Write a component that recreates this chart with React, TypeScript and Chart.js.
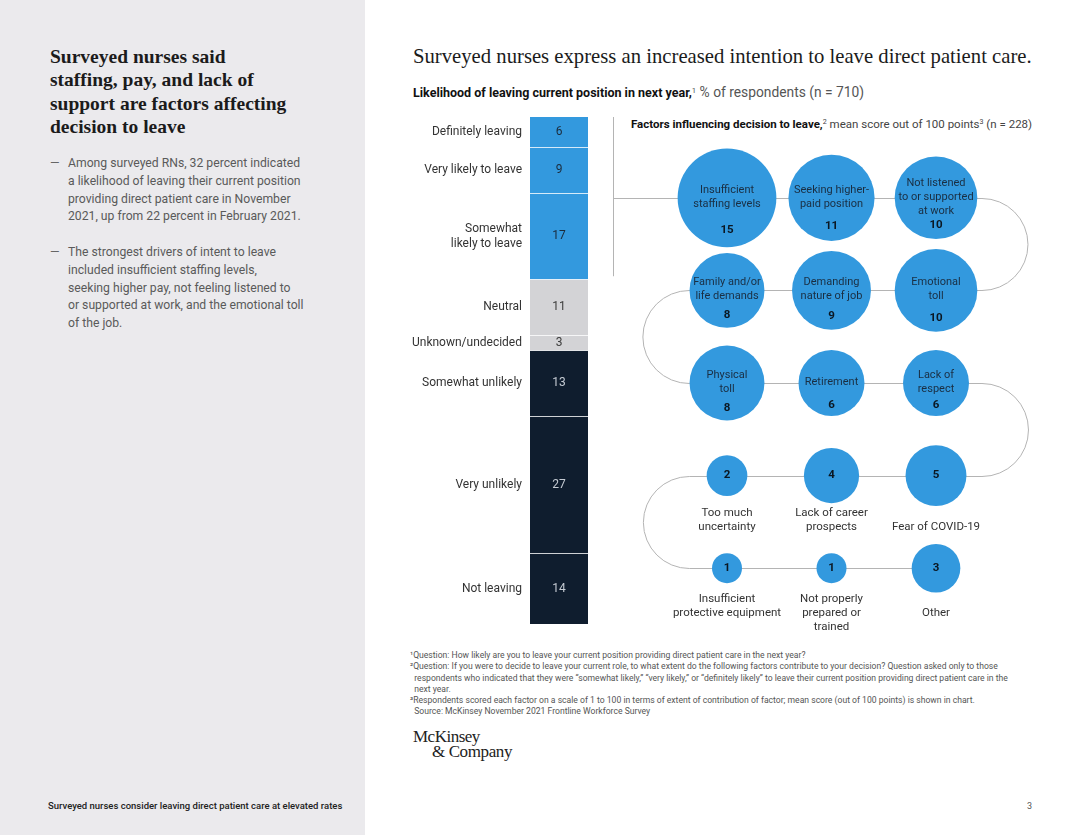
import React, { useEffect, useRef } from "react";
import { Chart, registerables } from "chart.js";
Chart.register(...registerables);

const SANS = "Roboto, 'Liberation Sans', Arial, sans-serif";
const SERIF = "'Liberation Serif', 'Times New Roman', serif";

// ---- Data: likelihood of leaving (stacked bar) ----
const likelihoodCategories = [
  "Definitely leaving",
  "Very likely to leave",
  "Somewhat\nlikely to leave",
  "Neutral",
  "Unknown/undecided",
  "Somewhat unlikely",
  "Very unlikely",
  "Not leaving",
];
const likelihoodValues = [6, 9, 17, 11, 3, 13, 27, 14];
const likelihoodGroups = ["leave", "leave", "leave", "neutral", "neutral", "stay", "stay", "stay"];

// ---- Data: factors influencing decision to leave (bubbles, ranked order) ----
const factorLabels = [
  "Insufficient\nstaffing levels",
  "Seeking higher-\npaid position",
  "Not listened\nto or supported\nat work",
  "Emotional\ntoll",
  "Demanding\nnature of job",
  "Family and/or\nlife demands",
  "Physical\ntoll",
  "Retirement",
  "Lack of\nrespect",
  "Fear of COVID-19",
  "Lack of career\nprospects",
  "Too much\nuncertainty",
  "Insufficient\nprotective equipment",
  "Not properly\nprepared or\ntrained",
  "Other",
];
const factorScores = [15, 11, 10, 10, 9, 8, 8, 6, 6, 5, 4, 2, 1, 1, 3];

const BLUE = "#3399de";
const GRAY = "#d3d3d6";
const NAVY = "#0f1d2e";
const groupColor: Record<string, string> = { leave: BLUE, neutral: GRAY, stay: NAVY };
const groupText: Record<string, string> = { leave: "#1b2b3b", neutral: "#3c3c3c", stay: "#c5cbd3" };

const COLS = 3;
const bubbleRadius = (v: number) => 15 * Math.pow(v, 0.44);
const gridPos = (i: number) => {
  const row = Math.floor(i / COLS);
  const k = i % COLS;
  const col = row % 2 === 0 ? k : COLS - 1 - k;
  return { x: col, y: row };
};

function LikelihoodBar() {
  const ref = useRef<HTMLCanvasElement>(null);
  useEffect(() => {
    const decor = {
      id: "barDecor",
      afterDatasetsDraw(chart: any) {
        const ctx = chart.ctx as CanvasRenderingContext2D;
        const yScale = chart.scales.y;
        const segs = chart.data.datasets.map((_: any, i: number) => {
          const el = chart.getDatasetMeta(i).data[0] as any;
          return {
            top: Math.min(el.y, el.base),
            bottom: Math.max(el.y, el.base),
            left: el.x - el.width / 2,
            right: el.x + el.width / 2,
          };
        });
        ctx.save();
        ctx.strokeStyle = "rgba(255,255,255,0.8)";
        ctx.lineWidth = 1;
        segs.slice(0, -1).forEach((s: any) => {
          const y = Math.round(s.bottom) + 0.5;
          ctx.beginPath();
          ctx.moveTo(s.left, y);
          ctx.lineTo(s.right, y);
          ctx.stroke();
        });
        ctx.textBaseline = "middle";
        ctx.font = `12px ${SANS}`;
        segs.forEach((s: any, i: number) => {
          const mid = (s.top + s.bottom) / 2;
          const lines = likelihoodCategories[i].split("\n");
          ctx.textAlign = "right";
          ctx.fillStyle = "#333";
          lines.forEach((ln, k) => ctx.fillText(ln, s.left - 8, mid + (k - (lines.length - 1) / 2) * 15));
          ctx.textAlign = "center";
          ctx.fillStyle = groupText[likelihoodGroups[i]];
          ctx.fillText(String(likelihoodValues[i]), (s.left + s.right) / 2, mid);
        });
        // bracket for the "leaving" segments
        const leaveTotal = likelihoodValues.reduce((a, v, i) => a + (likelihoodGroups[i] === "leave" ? v : 0), 0);
        const y0 = yScale.getPixelForValue(0);
        const y1 = yScale.getPixelForValue(leaveTotal);
        const bx = Math.round(segs[0].right + 25) + 0.5;
        const ym = Math.round((y0 + y1) / 2) + 0.5;
        ctx.strokeStyle = "#b4b4b4";
        ctx.beginPath();
        ctx.moveTo(bx, y0);
        ctx.lineTo(bx, y1 - 3);
        ctx.moveTo(bx, ym);
        ctx.lineTo(chart.width, ym);
        ctx.stroke();
        ctx.restore();
      },
    };
    const chart = new Chart(ref.current!, {
      type: "bar",
      data: {
        labels: [""],
        datasets: likelihoodValues.map((v, i) => ({
          label: likelihoodCategories[i],
          data: [v],
          backgroundColor: groupColor[likelihoodGroups[i]],
          borderWidth: 0,
          barPercentage: 1,
          categoryPercentage: 1,
        })),
      },
      options: {
        animation: false,
        responsive: false,
        events: [],
        layout: { autoPadding: false, padding: { left: 130, right: 32, top: 7, bottom: 6 } },
        plugins: { legend: { display: false }, tooltip: { enabled: false } },
        scales: {
          x: { stacked: true, display: false },
          y: { stacked: true, display: false, min: 0, max: 100, reverse: true },
        },
      },
      plugins: [decor],
    });
    return () => chart.destroy();
  }, []);
  return (
    <canvas
      ref={ref}
      width={220}
      height={520}
      style={{ position: "absolute", left: 400, top: 110, width: 220, height: 520 }}
    />
  );
}

function FactorBubbles() {
  const ref = useRef<HTMLCanvasElement>(null);
  useEffect(() => {
    const nRows = Math.ceil(factorScores.length / COLS);
    const connector = {
      id: "connector",
      beforeDatasetsDraw(chart: any) {
        const ctx = chart.ctx as CanvasRenderingContext2D;
        const xs = chart.scales.x;
        const ys = chart.scales.y;
        const rowY = (k: number) => Math.round(ys.getPixelForValue(k)) + 0.5;
        const xR = xs.getPixelForValue(COLS - 1 + 0.44);
        const xL = xs.getPixelForValue(-0.36);
        ctx.save();
        ctx.strokeStyle = "#b4b4b4";
        ctx.lineWidth = 1;
        ctx.beginPath();
        ctx.moveTo(0, rowY(0));
        for (let k = 0; k < nRows; k++) {
          const y = rowY(k);
          const right = k % 2 === 0;
          if (k === nRows - 1) {
            ctx.lineTo(xs.getPixelForValue(right ? COLS - 1 : 0), y);
            break;
          }
          const ny = rowY(k + 1);
          const r = (ny - y) / 2;
          const cx = right ? xR : xL;
          ctx.lineTo(cx, y);
          ctx.arc(cx, y + r, r, -Math.PI / 2, Math.PI / 2, !right);
        }
        ctx.stroke();
        ctx.restore();
      },
    };
    const labels = {
      id: "bubbleLabels",
      afterDatasetsDraw(chart: any) {
        const ctx = chart.ctx as CanvasRenderingContext2D;
        const meta = chart.getDatasetMeta(0);
        const rowMax: number[] = [];
        factorScores.forEach((v, i) => {
          const row = Math.floor(i / COLS);
          rowMax[row] = Math.max(rowMax[row] || 0, bubbleRadius(v));
        });
        ctx.save();
        ctx.textAlign = "center";
        ctx.textBaseline = "middle";
        meta.data.forEach((el: any, i: number) => {
          const v = factorScores[i];
          const r = bubbleRadius(v);
          const lines = factorLabels[i].split("\n");
          const row = Math.floor(i / COLS);
          if (v >= 6) {
            ctx.font = `11px ${SANS}`;
            ctx.fillStyle = "#1a2e42";
            const c = el.y - 1;
            lines.forEach((ln, k) => ctx.fillText(ln, el.x, c + (k - (lines.length - 1) / 2) * 14));
            ctx.font = `bold 11.5px ${SANS}`;
            ctx.fillStyle = "#0b1722";
            ctx.fillText(String(v), el.x, el.y + r * 0.66);
          } else {
            ctx.font = `bold 11.5px ${SANS}`;
            ctx.fillStyle = "#0b1722";
            ctx.fillText(String(v), el.x, el.y);
            ctx.font = `11.5px ${SANS}`;
            ctx.fillStyle = "#333";
            const base = el.y + rowMax[row] + 7 + (lines.length === 1 ? 14 : 0);
            lines.forEach((ln, k) => ctx.fillText(ln, el.x, base + k * 14));
          }
        });
        ctx.restore();
      },
    };
    const chart = new Chart(ref.current!, {
      type: "bubble",
      data: {
        datasets: [
          {
            data: factorScores.map((v, i) => ({ ...gridPos(i), r: bubbleRadius(v) })),
            backgroundColor: BLUE,
            borderWidth: 0,
            hoverBorderWidth: 0,
            clip: false as any,
          },
        ],
      },
      options: {
        animation: false,
        responsive: false,
        events: [],
        layout: { autoPadding: false, padding: { left: 2.5, right: 19.5, top: 21.5, bottom: 25.5 } },
        plugins: { legend: { display: false }, tooltip: { enabled: false } },
        scales: {
          x: { type: "linear", min: -1, max: 3, display: false },
          y: { type: "linear", min: -0.5, max: 4.5, reverse: true, display: false },
        },
      },
      plugins: [connector, labels],
    });
    return () => chart.destroy();
  }, []);
  return (
    <canvas
      ref={ref}
      width={440}
      height={510}
      style={{ position: "absolute", left: 620, top: 130, width: 440, height: 510 }}
    />
  );
}

const Sup = ({ children }: { children: React.ReactNode }) => (
  <span style={{ fontSize: "0.62em", verticalAlign: "0.55em", lineHeight: 0 }}>{children}</span>
);

const abs = (left: number, top: number, extra: React.CSSProperties = {}): React.CSSProperties => ({
  position: "absolute",
  left,
  top,
  whiteSpace: "pre",
  margin: 0,
  ...extra,
});

const leftTitle = ["Surveyed nurses said", "staffing, pay, and lack of", "support are factors affecting", "decision to leave"];
const bullets = [
  [
    "Among surveyed RNs, 32 percent indicated",
    "a likelihood of leaving their current position",
    "providing direct patient care in November",
    "2021, up from 22 percent in February 2021.",
  ],
  [
    "The strongest drivers of intent to leave",
    "included insufficient staffing levels,",
    "seeking higher pay, not feeling listened to",
    "or supported at work, and the emotional toll",
    "of the job.",
  ],
];
const footnotes = [
  "¹Question: How likely are you to leave your current position providing direct patient care in the next year?",
  "²Question: If you were to decide to leave your current role, to what extent do the following factors contribute to your decision? Question asked only to those",
  "  respondents who indicated that they were “somewhat likely,” “very likely,” or “definitely likely” to leave their current position providing direct patient care in the",
  "  next year.",
  "³Respondents scored each factor on a scale of 1 to 100 in terms of extent of contribution of factor; mean score (out of 100 points) is shown in chart.",
  "  Source: McKinsey November 2021 Frontline Workforce Survey",
];

export default function App() {
  const bulletTops = [155, 244];
  return (
    <div style={{ position: "absolute", left: 0, top: 0, width: 1080, height: 835, background: "#fff", overflow: "hidden", fontFamily: SANS }}>
      <div style={{ position: "absolute", left: 0, top: 0, width: 365, height: 835, background: "#ebeaed" }} />
      <div style={abs(50, 45, { fontFamily: SERIF, fontWeight: 700, fontSize: 19.5, lineHeight: "23.3px", color: "#1b1b1b" })}>
        {leftTitle.join("\n")}
      </div>
      {bullets.map((b, i) => (
        <React.Fragment key={i}>
          <div style={abs(50, bulletTops[i], { fontSize: 12.2, lineHeight: "17.8px", color: "#666" })}>—</div>
          <div style={abs(68, bulletTops[i], { fontSize: 12.2, lineHeight: "17.8px", color: "#5a5a5a" })}>{b.join("\n")}</div>
        </React.Fragment>
      ))}
      <div style={abs(48, 800, { fontSize: 9.5, lineHeight: "12px", fontWeight: 500, color: "#222" })}>
        Surveyed nurses consider leaving direct patient care at elevated rates
      </div>
      <div style={abs(1027, 800, { fontSize: 9, lineHeight: "12px", color: "#555" })}>3</div>

      <div style={abs(413, 45, { fontFamily: SERIF, fontSize: 20.7, lineHeight: "23px", color: "#1b1b1b" })}>
        Surveyed nurses express an increased intention to leave direct patient care.
      </div>
      <div style={abs(413, 84, { fontSize: 12.5, lineHeight: "16px", color: "#555" })}>
        <span style={{ fontWeight: 700, color: "#111" }}>Likelihood of leaving current position in next year,</span>
        <Sup>1</Sup>
        <span style={{ fontSize: 13.8 }}> % of respondents (n = 710)</span>
      </div>
      <div style={abs(631, 116, { fontSize: 11.5, lineHeight: "16px", color: "#444" })}>
        <span style={{ fontWeight: 700, color: "#111" }}>Factors influencing decision to leave,</span>
        <Sup>2</Sup> mean score out of 100 points<Sup>3</Sup> (n = 228)
      </div>

      <LikelihoodBar />
      <FactorBubbles />

      <div style={abs(410, 650, { fontSize: 8.6, lineHeight: "11.3px", color: "#555" })}>{footnotes.join("\n")}</div>
      <div style={abs(413, 729, { fontFamily: SERIF, fontSize: 17, lineHeight: "15px", letterSpacing: "-0.5px", color: "#222" })}>
        McKinsey
      </div>
      <div style={abs(432, 744, { fontFamily: SERIF, fontSize: 17, lineHeight: "15px", letterSpacing: "-0.4px", color: "#222" })}>
        &amp; Company
      </div>
    </div>
  );
}
